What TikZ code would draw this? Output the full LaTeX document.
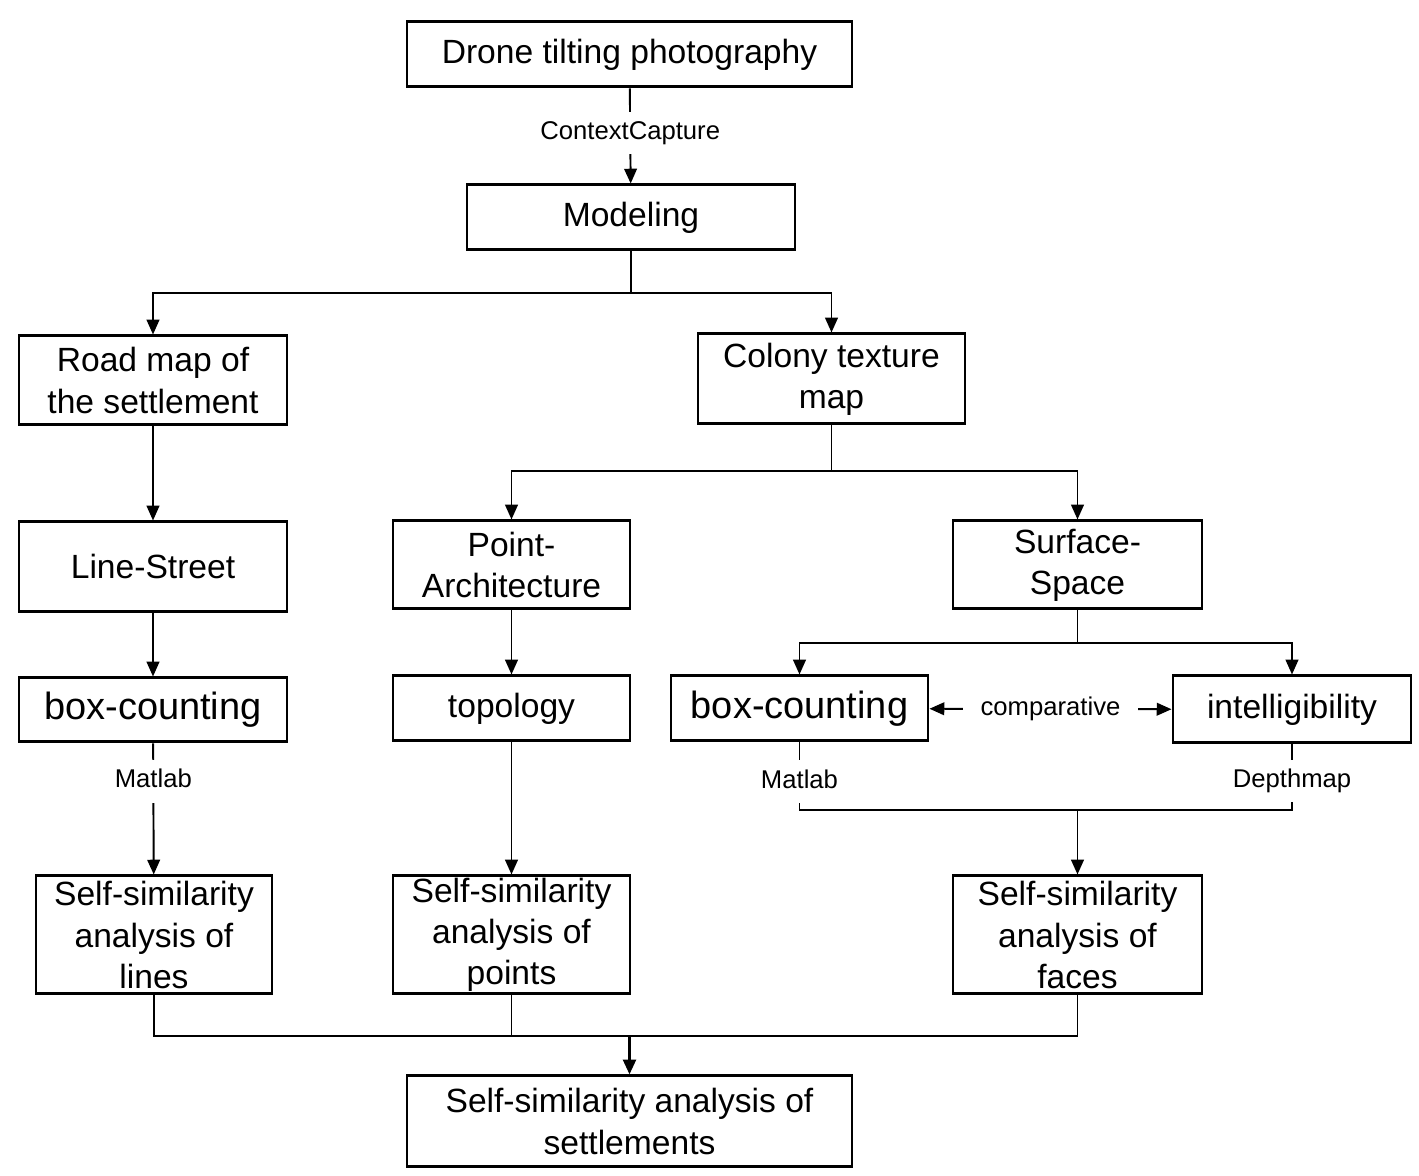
\documentclass[tikz,border=0pt]{standalone}
\usepackage{fontspec}
\setmainfont{Liberation Sans}
\usetikzlibrary{arrows.meta}

\begin{document}
\begin{tikzpicture}[
    every node/.style={font=\fontsize{9.56}{11.7}\selectfont},
    block/.style={rectangle, draw, line width=0.85pt, align=center, inner sep=0pt},
    arr/.style={-{Triangle[length=4.2pt,width=3.6pt]}},
    link/.style={line width=0.55pt},
    tool/.style={font=\fontsize{7.3}{8.5}\selectfont, fill=white, inner xsep=2pt, inner ysep=2.5pt, text height=5.4pt, text depth=1.7pt}
]
\useasboundingbox (0,0) rectangle (14.19,-11.76);

% Top of the chain
\node[block, minimum width=4.45cm, minimum height=0.65cm] (drone) at (6.295,-0.545) {Drone tilting photography};
\node[block, minimum width=3.28cm, minimum height=0.65cm] (model) at (6.31,-2.175) {Modeling};

% Two maps
\node[block, minimum width=2.68cm, minimum height=0.89cm] (road) at (1.53,-3.805) {Road map of\\the settlement};
\node[block, minimum width=2.67cm, minimum height=0.90cm] (colony) at (8.315,-3.79) {Colony texture\\map};

% Line, point, surface
\node[block, minimum width=2.68cm, minimum height=0.90cm] (street) at (1.53,-5.67) {Line-Street};
\node[block, minimum width=2.37cm, minimum height=0.88cm] (point) at (5.115,-5.65) {Point-\\Architecture};
\node[block, minimum width=2.49cm, minimum height=0.88cm] (surface) at (10.775,-5.65) {Surface-\\Space};

% Methods
\node[block, minimum width=2.68cm, minimum height=0.64cm, font=\fontsize{10.8}{13}\selectfont] (boxcount1) at (1.53,-7.10) {box-counting};
\node[block, minimum width=2.37cm, minimum height=0.65cm] (topo) at (5.115,-7.085) {topology};
\node[block, minimum width=2.57cm, minimum height=0.65cm, font=\fontsize{10.8}{13}\selectfont] (boxcount2) at (7.995,-7.085) {box-counting};
\node[block, minimum width=2.38cm, minimum height=0.67cm] (intel) at (12.92,-7.095) {intelligibility};

% Self-similarity results
\node[block, minimum width=2.36cm, minimum height=1.18cm] (sslines) at (1.54,-9.35) {Self-similarity\\analysis of\\lines};
\node[block, minimum width=2.37cm, minimum height=1.18cm] (sspoints) at (5.115,-9.35) {Self-similarity\\analysis of\\points};
\node[block, minimum width=2.49cm, minimum height=1.18cm] (ssfaces) at (10.775,-9.35) {Self-similarity\\analysis of\\faces};
\node[block, minimum width=4.45cm, minimum height=0.91cm] (final) at (6.295,-11.215) {Self-similarity analysis of\\settlements};

% Junctions
\coordinate (split1) at (6.31,-2.93);
\coordinate (split2) at (8.315,-4.71);
\coordinate (split3) at (10.775,-6.43);
\coordinate (merge1) at (10.775,-8.10);
\coordinate (merge2) at (6.295,-10.36);

% Connectors
\draw[link, arr] (drone) -- node[tool, pos=0.47] {ContextCapture} (model);
\draw[link] (model) -- (split1);
\draw[link, arr] (split1) -| (road);
\draw[link, arr] (split1) -| (colony);
\draw[link, arr] (road) -- (street);
\draw[link] (colony) -- (split2);
\draw[link, arr] (split2) -| (point);
\draw[link, arr] (split2) -| (surface);
\draw[link, arr] (street) -- (boxcount1);
\draw[link, arr] (point) -- (topo);
\draw[link] (surface) -- (split3);
\draw[link, arr] (split3) -| (boxcount2);
\draw[link, arr] (split3) -| (intel);
\draw[link, {Triangle[length=4.2pt,width=3.6pt]}-{Triangle[length=4.2pt,width=3.6pt]}] (boxcount2) -- node[tool, inner xsep=5pt] {comparative} (intel);
\draw[link, arr] (boxcount1) -- node[tool, pos=0.29] {Matlab} (sslines);
\draw[link, arr] (topo) -- (sspoints);
\draw[link] (boxcount2) |- node[tool, pos=0.29] {Matlab} (merge1);
\draw[link] (intel) |- node[tool, pos=0.28] {Depthmap} (merge1);
\draw[link, arr] (merge1) -- (ssfaces);
\draw[link] (sslines) |- (merge2);
\draw[link] (sspoints) |- (merge2);
\draw[link] (ssfaces) |- (merge2);
\draw[line width=0.85pt, arr] (merge2) -- (final);

\end{tikzpicture}
\end{document}
